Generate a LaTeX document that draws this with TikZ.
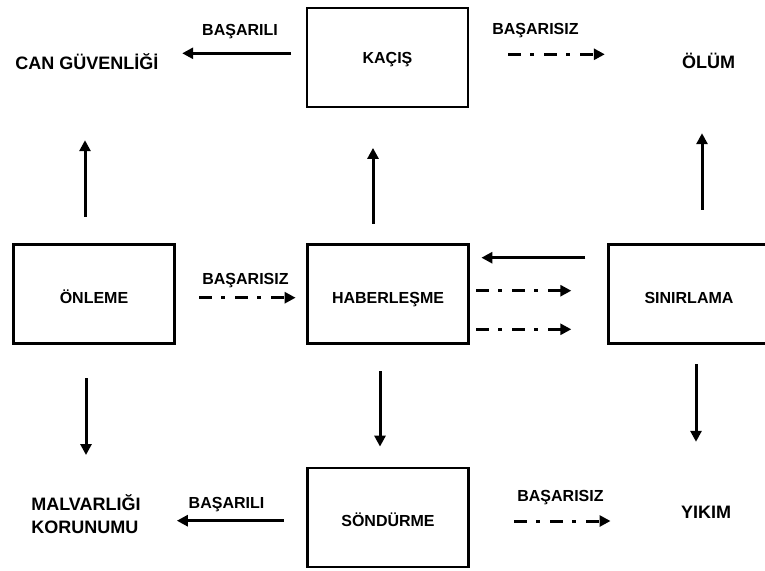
\documentclass[tikz,border=0pt]{standalone}
\usepackage{fontspec}
\setmainfont{Liberation Sans}
\usepackage{tikz}
\usetikzlibrary{arrows.meta}
\tikzstyle{process} = [rectangle, minimum width=161pt, minimum height=99pt, text centered, draw=black, line width=2.8pt, text height=18.5pt, text depth=0pt, font=\fontsize{16}{19}\selectfont\bfseries]
\tikzstyle{outcome} = [inner sep=0pt, text height=13pt, text depth=0pt, font=\fontsize{18}{23.5}\selectfont\bfseries]
\tikzstyle{outcomeblock} = [inner sep=0pt, align=left, font=\fontsize{18}{23.5}\selectfont\bfseries]
\tikzstyle{verdict} = [inner sep=0pt, text height=11.5pt, text depth=0pt, font=\fontsize{16}{19}\selectfont\bfseries]
\tikzstyle{arrow} = [line width=3pt, -{Triangle[length=11pt,width=11pt]}]
\tikzstyle{failarrow} = [arrow, dash pattern=on 13pt off 9pt on 4pt off 10pt]

\begin{document}
\begin{tikzpicture}[x=1pt, y=-1pt]
\clip (0,0) rectangle (765,570);
\node (kacis) [process, text height=11.5pt] at (387.5,57.5) {KAÇIŞ};
\node (onleme) [process] at (94,294) {ÖNLEME};
\node (haber) [process] at (388,294) {HABERLEŞME};
\node (sinir) [process] at (689,294) {SINIRLAMA};
\node (sondur) [process] at (388,517.5) {SÖNDÜRME};

\node (can) [outcome] at (87,62.5) {CAN GÜVENLİĞİ};
\node (olum) [outcome] at (708.5,62) {ÖLÜM};
\node (malvar) [outcomeblock] at (86,514) {MALVARLIĞI\\KORUNUMU};
\node (yikim) [outcome] at (706,511.5) {YIKIM};

\node (okEsc) [verdict] at (240,30) {BAŞARILI};
\node (failEsc) [verdict] at (535.5,29) {BAŞARISIZ};
\node (failPrev) [verdict] at (245.5,279) {BAŞARISIZ};
\node (okExt) [verdict] at (226.5,502.5) {BAŞARILI};
\node (failExt) [verdict] at (560.5,496) {BAŞARISIZ};

\draw [arrow] ([xshift=-14.5pt,yshift=4.2pt]kacis.west) -- ([xshift=23.5pt,yshift=9.2pt]can.east);
\draw [failarrow] ([xshift=39pt,yshift=3.2pt]kacis.east) -- ([xshift=-77pt,yshift=7.7pt]olum.west);
\draw [failarrow] ([xshift=23.5pt,yshift=-3.7pt]onleme.east) -- ([xshift=-10.5pt,yshift=-3.7pt]haber.west);
\draw [arrow] ([xshift=-21.8pt,yshift=36.3pt]sinir.west) -- ([xshift=11.5pt,yshift=36.3pt]haber.east);
\draw [failarrow] ([xshift=6.5pt,yshift=3.3pt]haber.east) -- ([xshift=-35.8pt,yshift=3.3pt]sinir.west);
\draw [failarrow] ([xshift=6.5pt,yshift=-35.3pt]haber.east) -- ([xshift=-35.8pt,yshift=-35.3pt]sinir.west);
\draw [arrow] ([xshift=-22.5pt,yshift=-3.2pt]sondur.west) -- ([xshift=36pt,yshift=-6.7pt]malvar.east);
\draw [failarrow] ([xshift=44.5pt,yshift=-3.5pt]sondur.east) -- ([xshift=-70.3pt,yshift=-9.5pt]yikim.west);

\draw [arrow] ([xshift=-9pt,yshift=26.5pt]onleme.north) -- ([xshift=-2pt,yshift=-71pt]can.south);
\draw [arrow] ([xshift=-15pt,yshift=19.5pt]haber.north) -- ([xshift=-14.5pt,yshift=-39.5pt]kacis.south);
\draw [arrow] ([xshift=13pt,yshift=33.5pt]sinir.north) -- ([xshift=-6.5pt,yshift=-64.5pt]olum.south);
\draw [arrow] ([xshift=-8pt,yshift=-33.5pt]onleme.south) -- ([yshift=39pt]malvar.north);
\draw [arrow] ([xshift=-8pt,yshift=-26.5pt]haber.south) -- ([xshift=-8pt,yshift=20pt]sondur.north);
\draw [arrow] ([xshift=7pt,yshift=-19.5pt]sinir.south) -- ([xshift=-10pt,yshift=63pt]yikim.north);
\end{tikzpicture}
\end{document}
